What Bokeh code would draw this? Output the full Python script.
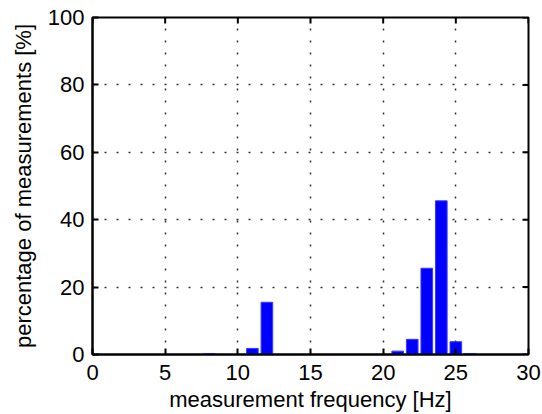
import math
from bokeh.plotting import figure
from bokeh.models import FixedTicker, Range1d, ColumnDataSource
from bokeh.embed import file_html
from bokeh.resources import INLINE

# data
freq = [8, 11, 12, 21, 22, 23, 24, 25, 26]
percent = [0.3, 1.8, 15.5, 1.0, 4.5, 25.6, 45.6, 3.8, 0.3]
x_ticks = [0, 5, 10, 15, 20, 25, 30]
y_ticks = [0, 20, 40, 60, 80, 100]

FONT = "Liberation Sans"

p = figure(width=542, height=414, output_backend="svg", toolbar_location=None,
           x_range=Range1d(0, 30), y_range=Range1d(0, 100),
           min_border_left=92, min_border_right=14, min_border_top=17, min_border_bottom=60)

src = ColumnDataSource(dict(x=freq, top=percent))
p.vbar(x="x", top="top", bottom=0, width=0.8, source=src,
       fill_color="#0000ff", line_color="#3a3aff", line_width=1)

p.outline_line_color = "black"
p.outline_line_width = 2
p.outline_line_alpha = 1

for ax in (p.xaxis[0], p.yaxis[0]):
    ax.major_label_text_font = FONT
    ax.major_label_text_font_size = "22px"
    ax.major_label_text_color = "black"
    ax.axis_label_text_font = FONT
    ax.axis_label_text_font_size = "22px"
    ax.axis_label_text_font_style = "normal"
    ax.axis_label_text_color = "black"
    ax.major_tick_in = 6
    ax.major_tick_out = 0
    ax.minor_tick_in = 0
    ax.minor_tick_out = 0
    ax.axis_line_width = 2
    ax.major_tick_line_width = 2

p.xaxis[0].ticker = FixedTicker(ticks=x_ticks)
p.yaxis[0].ticker = FixedTicker(ticks=y_ticks)
p.xaxis[0].axis_label = "measurement frequency [Hz]"
p.yaxis[0].axis_label = "percentage of measurements [%]"
p.xaxis[0].major_label_standoff = 10
p.yaxis[0].major_label_standoff = 8
p.xaxis[0].axis_label_standoff = 4
p.yaxis[0].axis_label_standoff = 9

# mirrored ticks on top and right (box on), drawn from the tick arrays
p.ray(x=x_ticks, y=[100] * len(x_ticks), length=6, length_units="screen",
      angle=-math.pi / 2, line_color="black", line_width=2)
p.ray(x=[30] * len(y_ticks), y=y_ticks, length=6, length_units="screen",
      angle=math.pi, line_color="black", line_width=2)

for g in (p.xgrid[0], p.ygrid[0]):
    g.grid_line_color = "black"
    g.grid_line_dash = "2 10"
    g.grid_line_width = 1.5
    g.grid_line_alpha = 0.8
p.xgrid[0].ticker = FixedTicker(ticks=x_ticks)
p.ygrid[0].ticker = FixedTicker(ticks=y_ticks)

p.background_fill_color = "white"
p.border_fill_color = "white"

open("out.html", "w").write(file_html(p, INLINE))
